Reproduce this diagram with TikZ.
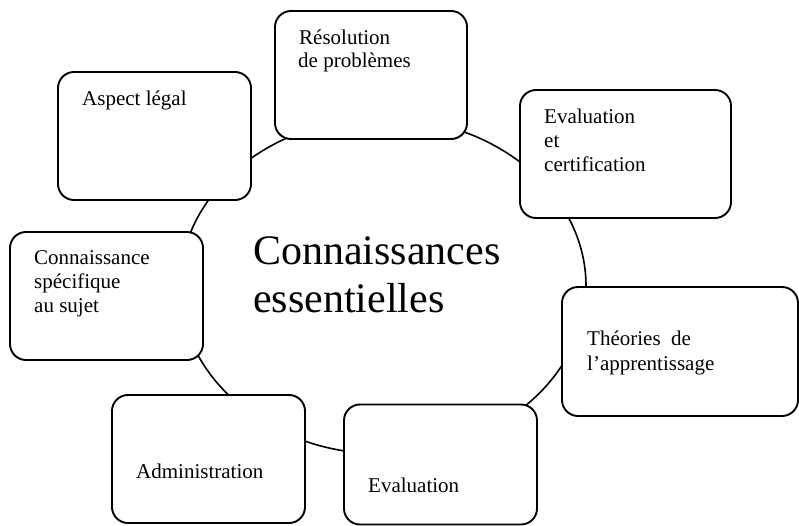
\documentclass[tikz,border=0pt]{standalone}
\usepackage{fontspec}
\setmainfont{Liberation Serif}
\usetikzlibrary{shapes.geometric}
\begin{document}
\begin{tikzpicture}[x=1pt,y=-1pt,
  box/.style={draw, line width=1.9pt, rounded corners=16pt, fill=white, inner sep=0pt},
  lbl/.style={anchor=base west, inner sep=0pt, font=\fontsize{21}{24}\selectfont},
  big/.style={anchor=base west, inner sep=0pt, font=\fontsize{42}{47}\selectfont}]
\useasboundingbox (0,0) rectangle (799,526);
% ring
\node[draw, ellipse, line width=1.6pt, minimum width=406pt, minimum height=336pt, inner sep=0pt] (ring) at (383,286) {};
% boxes
\node[box, minimum width=192pt, minimum height=128pt] (res) at (371,75) {};
\node[box, minimum width=193pt, minimum height=128pt] (asp) at (154.5,136) {};
\node[box, minimum width=211pt, minimum height=128pt] (evc) at (625.5,154) {};
\node[box, minimum width=193pt, minimum height=128pt] (con) at (106.5,296) {};
\node[box, minimum width=193pt, minimum height=128pt] (adm) at (208.5,459) {};
\node[box, minimum width=193pt, minimum height=120pt] (eva) at (440.5,464.5) {};
\node[box, minimum width=236pt, minimum height=129pt] (the) at (680,351.5) {};
% texts
\node[big] (c1) at (253,265) {Connaissances};
\node[big] (c2) at (253,312) {essentielles};
\node[lbl] (res1) at (299,45) {Résolution};
\node[lbl] (res2) at (298,68) {de problèmes};
\node[lbl] (asp1) at (82,106) {Aspect légal};
\node[lbl] (evc1) at (544,124) {Evaluation};
\node[lbl] (evc2) at (544,148) {et};
\node[lbl] (evc3) at (544,172) {certification};
\node[lbl] (con1) at (34,265) {Connaissance};
\node[lbl] (con2) at (34,288) {spécifique};
\node[lbl] (con3) at (34,312) {au sujet};
\node[lbl] (adm1) at (136,478) {Administration};
\node[lbl] (eva1) at (368,492) {Evaluation};
\node[lbl] (the1) at (587,345) {Théories\ \ de};
\node[lbl] (the2) at (587,370) {l’apprentissage};
\end{tikzpicture}
\end{document}
